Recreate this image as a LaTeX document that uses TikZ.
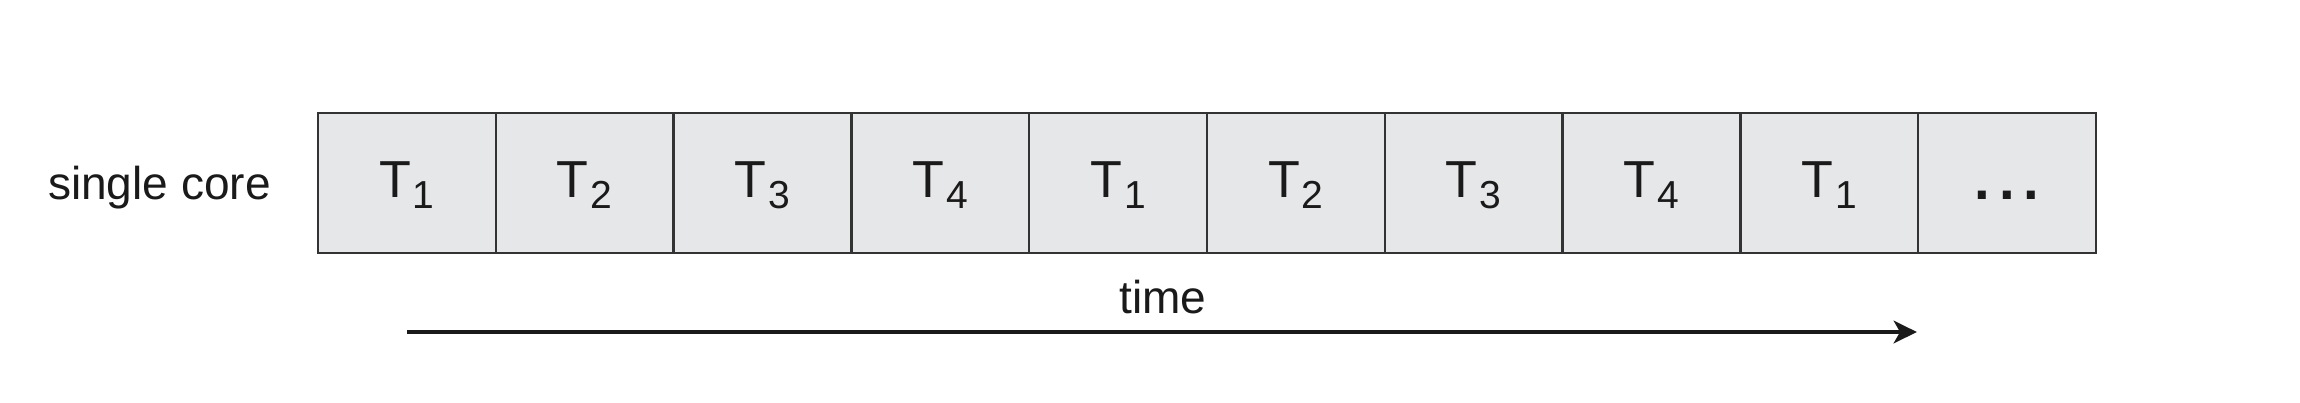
\documentclass[tikz,border=0pt]{standalone}
\usepackage{fontspec}
\setmainfont{Liberation Sans}
\usetikzlibrary{arrows.meta,calc}
\definecolor{cellfill}{HTML}{E6E7E9}
\definecolor{celldraw}{HTML}{333333}
\definecolor{ink}{HTML}{1A1A1A}
\newcommand\tlabel[1]{\fontsize{14.8pt}{16pt}\selectfont T\kern0.02cm\raisebox{-0.11cm}{\fontsize{11.1pt}{12pt}\selectfont #1}}
\begin{document}
\begin{tikzpicture}[x=0.01cm,y=-0.01cm,
  cell/.style={draw=celldraw,fill=cellfill,line width=0.7pt,minimum width=1.778cm,minimum height=1.40cm,inner sep=0pt,text height=0.70cm,text depth=0.42cm,text=ink},
  lbl/.style={anchor=base,text=ink,inner sep=0pt,font=\fontsize{13.1pt}{15pt}\selectfont},
  timearrow/.style={line width=1.15pt,draw=ink,-{Stealth[length=6.6pt,width=6.4pt,inset=1.8pt]}}]
\useasboundingbox (0,0) rectangle (2300,402);
\node[cell] (c1) at (406.9,183) {\tlabel{1}};
\node[cell] (c2) at (584.7,183) {\tlabel{2}};
\node[cell] (c3) at (762.5,183) {\tlabel{3}};
\node[cell] (c4) at (940.3,183) {\tlabel{4}};
\node[cell] (c5) at (1118.1,183) {\tlabel{1}};
\node[cell] (c6) at (1295.9,183) {\tlabel{2}};
\node[cell] (c7) at (1473.7,183) {\tlabel{3}};
\node[cell] (c8) at (1651.5,183) {\tlabel{4}};
\node[cell] (c9) at (1829.3,183) {\tlabel{1}};
\node[cell,text height=0.74cm,text depth=0.42cm] (c10) at (2007.1,183) {\fontsize{16pt}{18pt}\selectfont\bfseries .\kern0.09cm.\kern0.09cm.};
\node[lbl] (sc) at (159.5,199) {single core};
\node[lbl] (time) at (1163,313) {time};
\coordinate (astart) at (c1.center |- 0,332);
\coordinate (aend) at (c10.west |- 0,332);
\draw[timearrow] (astart) -- (aend);
\end{tikzpicture}
\end{document}
